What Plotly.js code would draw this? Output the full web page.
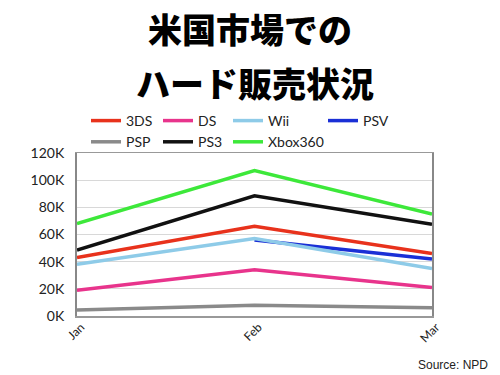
<!DOCTYPE html>
<html><head><meta charset="utf-8">
<script src="https://cdn.plot.ly/plotly-3.0.1.min.js"></script>
<style>html,body{margin:0;padding:0;background:#fff}#chart{width:500px;height:375px}</style>
</head><body><div id="chart"></div>
<script>
const months = ['Jan', 'Feb', 'Mar'];
const sales3DS = [43000, 66000, 46000];
const salesDS = [19000, 34000, 21000];
const salesWii = [38000, 57000, 35000];
const salesPSV = [null, 56000, 42000];
const salesPSP = [4500, 8000, 6000];
const salesPS3 = [48500, 88500, 67500];
const salesXbox360 = [68000, 107000, 75000];
const yTickVals = [0, 20000, 40000, 60000, 80000, 100000, 120000];
const yTickText = ['0K', '20K', '40K', '60K', '80K', '100K', '120K'];

function tr(name, y, color, legend, rank) {
  return {type: 'scatter', mode: 'lines', x: months, y: y, name: name,
    line: {color: color, width: 3.5}, legend: legend, legendrank: rank, connectgaps: false};
}
const data = [
  tr('PSP', salesPSP, '#8a8a8a', 'legend', 2),
  tr('DS', salesDS, '#e8348c', 'legend2', 1),
  tr('PSV', salesPSV, '#1a2fd6', 'legend4', 1),
  tr('Wii', salesWii, '#8ecbe8', 'legend3', 1),
  tr('3DS', sales3DS, '#e8321c', 'legend', 1),
  tr('PS3', salesPS3, '#111111', 'legend2', 2),
  tr('Xbox360', salesXbox360, '#3de83a', 'legend3', 2)
];

const legFont = {family: 'Lato, "Open Sans", sans-serif', size: 14, color: '#222'};
function leg(px) {
  return {xref: 'container', yref: 'container', x: px / 500, y: 1 - 105 / 375,
    xanchor: 'left', yanchor: 'top', orientation: 'v', font: legFont,
    bgcolor: 'rgba(0,0,0,0)', borderwidth: 0, itemwidth: 30};
}
const layout = {
  width: 500, height: 375,
  margin: {l: 77, r: 68, t: 153, b: 59, autoexpand: false},
  paper_bgcolor: '#fff', plot_bgcolor: '#fff',
  font: {family: 'Lato, "Open Sans", sans-serif', color: '#222'},
  title: {text: '米国市場での', font: {family: '"Noto Sans CJK JP", sans-serif', size: 34, color: '#000', weight: 900},
    x: 0.5, xanchor: 'center', xref: 'container', y: 1 - 31 / 375, yanchor: 'middle', yref: 'container'},
  annotations: [
    {text: 'ハード販売状況', xref: 'paper', yref: 'paper', x: 0.5 - 0 / 355, y: 1 + (153 - 82) / 163,
     xanchor: 'center', yanchor: 'middle', showarrow: false,
     font: {family: '"Noto Sans CJK JP", sans-serif', size: 34, color: '#000', weight: 900}},
    {text: 'Source: NPD', xref: 'paper', yref: 'paper', x: 1 + (490 - 432) / 355, y: -(365 - 316) / 163,
     xanchor: 'right', yanchor: 'middle', showarrow: false,
     font: {family: 'Arial, "Liberation Sans", sans-serif', size: 12, color: '#222'}}
  ],
  xaxis: {type: 'category', range: [0, 2], showgrid: false, zeroline: false,
    showline: true, linecolor: '#999', linewidth: 1.5, mirror: true,
    ticks: '', tickangle: -45, ticklabelshift: 4, ticklabelstandoff: -2,
    tickfont: {family: 'Lato, "Open Sans", sans-serif', size: 12, color: '#222'}},
  yaxis: {range: [0, 120000], tickvals: yTickVals, ticktext: yTickText,
    showgrid: true, gridcolor: '#d8d8d8', gridwidth: 1, zeroline: false,
    showline: true, linecolor: '#888', linewidth: 2, mirror: true,
    ticks: '', ticklabelstandoff: 8,
    tickfont: {family: 'Lato, "Open Sans", sans-serif', size: 14, color: '#222'}},
  legend: leg(86),
  legend2: leg(158),
  legend3: leg(228),
  legend4: leg(323),
  showlegend: true
};
Plotly.newPlot('chart', data, layout, {displayModeBar: false, staticPlot: true});
</script></body></html>
